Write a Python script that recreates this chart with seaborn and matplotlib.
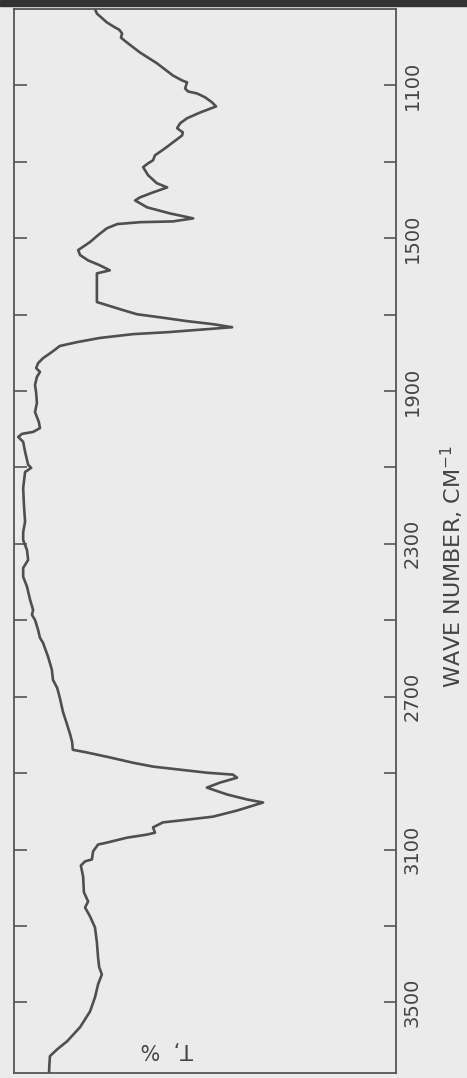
import numpy as np
import pandas as pd
import matplotlib
matplotlib.use('Agg')
import matplotlib.pyplot as plt
from matplotlib.patches import Rectangle
import seaborn as sns

wavenumber = [900, 912, 935, 948, 954, 964, 975, 988, 1014, 1042, 1074, 1087, 1092,
              1108, 1116, 1121, 1131, 1144, 1155, 1171, 1186, 1199, 1212, 1223, 1231,
              1249, 1265, 1283, 1296, 1304, 1314, 1335, 1356, 1367, 1380, 1393, 1401,
              1419, 1435, 1448, 1456, 1458, 1463, 1474, 1492, 1510, 1524, 1531, 1544,
              1558, 1571, 1584, 1592, 1602, 1636, 1667, 1675, 1688, 1699, 1707, 1717,
              1725, 1733, 1738, 1746, 1751, 1761, 1772, 1782, 1798, 1814, 1827, 1840,
              1850, 1863, 1884, 1905, 1931, 1955, 1981, 1997, 2007, 2012, 2020, 2033,
              2059, 2093, 2101, 2112, 2154, 2198, 2242, 2269, 2290, 2316, 2342, 2363,
              2386, 2412, 2446, 2473, 2486, 2499, 2525, 2546, 2559, 2595, 2629, 2656,
              2677, 2703, 2739, 2773, 2799, 2818, 2839, 2846, 2859, 2873, 2883, 2886,
              2891, 2899, 2904, 2912, 2925, 2938, 2956, 2969, 2977, 2990, 2998, 3006,
              3014, 3022, 3029, 3042, 3056, 3061, 3069, 3082, 3087, 3105, 3126, 3131,
              3142, 3171, 3212, 3236, 3252, 3275, 3304, 3343, 3382, 3408, 3427, 3453,
              3487, 3524, 3565, 3602, 3623, 3641, 3675, 3685]
transmittance = [78.8, 78.3, 75.7, 73.6, 72.5, 71.7, 72.0, 70.4, 67.0, 62.6, 58.4, 56.0, 54.7,
                 55.2, 54.4, 52.1, 50.0, 48.2, 47.1, 51.3, 54.7, 56.5, 57.3, 55.8, 56.0,
                 58.4, 60.5, 63.1, 63.6, 64.9, 66.2, 64.9, 62.6, 59.9, 63.6, 67.0, 68.3,
                 65.2, 59.2, 53.1, 58.4, 67.0, 73.0, 75.7, 78.0, 80.1, 82.2, 83.2, 82.7,
                 80.6, 77.5, 74.9, 78.3, 78.3, 78.3, 78.3, 75.7, 71.5, 67.8, 61.8, 54.7,
                 47.9, 42.9, 49.5, 59.9, 68.8, 77.5, 83.5, 88.0, 90.1, 92.4, 93.7, 94.2,
                 93.2, 94.0, 94.5, 94.2, 94.0, 94.5, 93.5, 93.2, 95.0, 97.9, 98.9, 97.6,
                 97.1, 96.3, 95.5, 97.1, 97.6, 97.4, 97.1, 97.6, 97.6, 96.6, 96.3, 97.6,
                 97.6, 96.6, 95.8, 95.0, 95.3, 94.5, 93.7, 93.2, 92.4, 91.1, 90.1, 89.8,
                 88.7, 88.0, 87.2, 86.1, 85.3, 84.8, 84.6, 80.9, 74.9, 68.8, 63.6, 61.0,
                 56.5, 49.5, 42.7, 41.6, 46.1, 49.5, 44.2, 39.0, 34.8, 39.0, 41.6, 44.8,
                 47.9, 54.7, 61.0, 63.6, 63.1, 65.2, 70.4, 75.7, 78.0, 79.3, 79.6, 81.4,
                 82.5, 81.9, 81.7, 80.6, 81.4, 80.1, 78.8, 78.3, 78.0, 77.7, 77.0, 78.0,
                 78.8, 80.1, 82.7, 86.1, 88.7, 90.6, 90.8, 90.8]

major_ticks = [1100, 1500, 1900, 2300, 2700, 3100, 3500]
minor_ticks = [1300, 1700, 2100, 2500, 2900, 3300]

df = pd.DataFrame({'wn': wavenumber, 'T': transmittance})

sns.set_style('white')
bg = '#ebebeb'
ink = '#555555'

fig = plt.figure(figsize=(4.67, 10.78), dpi=100, facecolor=bg)
ax = fig.add_axes([14/467, 5/1078, 382/467, 1064/1078], facecolor=bg)

sns.lineplot(data=df, x='T', y='wn', sort=False, estimator=None,
             color='#4f4f4f', lw=1.9, ax=ax)

ax.set_xlim(100, 0)
ax.set_ylim(3685, 900)
ax.set_xticks([])
ax.set_xlabel('')
ax.set_ylabel('')

ax.set_yticks(major_ticks)
ax.set_yticks(minor_ticks, minor=True)
ax.set_yticklabels([str(t) for t in major_ticks], rotation=90, va='center', ha='left',
                   family=['Liberation Sans Narrow', 'DejaVu Sans Condensed', 'DejaVu Sans'],
                   fontsize=14, color='#444444')
ax.tick_params(which='both', direction='in', left=True, right=True,
               labelleft=False, labelright=True, length=9, width=1.2,
               color=ink, pad=5)
for s in ax.spines.values():
    s.set_color(ink)
    s.set_linewidth(1.3)

fig.text(452/467, 1 - 567/1078, 'WAVE NUMBER, CM$^{-1}$', rotation=90,
         ha='center', va='center', fontsize=16, color='#444444')
fig.text(167/467, 1 - 1049/1078, 'T,  %', rotation=180,
         ha='center', va='center', fontsize=15, color='#444444')

# dark strip along the top of the scan
fig.patches.append(Rectangle((0, 1 - 6/1078), 1, 6/1078, transform=fig.transFigure,
                             color='#333333', zorder=5))

fig.savefig('out.png', dpi=100, facecolor=bg)
